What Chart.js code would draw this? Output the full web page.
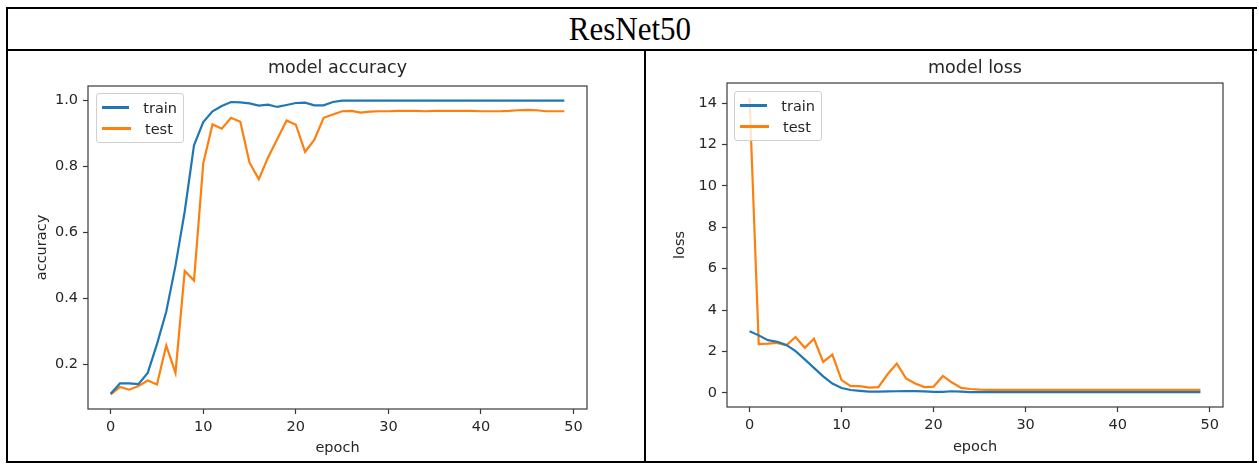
<!DOCTYPE html>
<html>
<head>
<meta charset="utf-8">
<script src="https://cdn.jsdelivr.net/npm/chart.js@4.4.1/dist/chart.umd.min.js"></script>
<style>
  html, body { margin: 0; padding: 0; background: #fff; }
  #page { position: relative; width: 1259px; height: 464px; overflow: hidden; background: #fff; }
  .rule { position: absolute; background: #000; }
  #header { position: absolute; left: 8px; top: 9px; width: 1244px; height: 40px;
            font-family: 'Liberation Serif', 'Times New Roman', serif; font-size: 31px;
            color: #000; text-align: center; line-height: 40px; transform: scaleY(1.1); }
  canvas { position: absolute; }
  .legend { position: absolute; box-sizing: border-box; border: 1px solid #d0d0d0; border-radius: 3px;
            background: rgba(255,255,255,0.8); font-family: 'DejaVu Sans', sans-serif; font-size: 14.5px;
            color: #262626; padding: 3px 6px 3px 5px; }
  .legend .row { display: flex; align-items: center; height: 21px; }
  .legend .sw { width: 29px; height: 2.2px; margin-right: 14px; }
</style>
</head>
<body>
<div id="page">
  <div class="rule" style="left:6px;top:7px;width:1251px;height:2px"></div>
  <div class="rule" style="left:6px;top:49px;width:1251px;height:2px"></div>
  <div class="rule" style="left:6px;top:461px;width:1251px;height:2px"></div>
  <div class="rule" style="left:6px;top:7px;width:2px;height:456px"></div>
  <div class="rule" style="left:1252px;top:7px;width:2px;height:456px"></div>
  <div class="rule" style="left:644px;top:49px;width:2px;height:414px"></div>
  <div id="header">ResNet50</div>
  <canvas id="accChart" width="636" height="410" style="left:8px;top:51px;width:636px;height:410px"></canvas>
  <canvas id="lossChart" width="606" height="410" style="left:646px;top:51px;width:606px;height:410px"></canvas>
  <div id="accLegend" class="legend" style="left:96px;top:93px;width:88px;"></div>
  <div id="lossLegend" class="legend" style="left:734px;top:91px;width:88px;"></div>
</div>
<script>
// ---- data ----
const epochs = [0,1,2,3,4,5,6,7,8,9,10,11,12,13,14,15,16,17,18,19,20,21,22,23,24,25,26,27,28,29,30,31,32,33,34,35,36,37,38,39,40,41,42,43,44,45,46,47,48,49];

const accTrain = [0.112,0.143,0.143,0.141,0.175,0.262,0.360,0.500,0.665,0.865,
                  0.935,0.968,0.984,0.996,0.995,0.992,0.985,0.988,0.981,0.987,
                  0.993,0.994,0.986,0.986,0.996,1.000,1.000,1.000,1.000,1.000,
                  1.000,1.000,1.000,1.000,1.000,1.000,1.000,1.000,1.000,1.000,
                  1.000,1.000,1.000,1.000,1.000,1.000,1.000,1.000,1.000,1.000];
const accTest  = [0.110,0.132,0.124,0.135,0.152,0.140,0.258,0.175,0.484,0.455,
                  0.810,0.928,0.915,0.948,0.936,0.812,0.762,0.828,0.884,0.940,
                  0.927,0.845,0.882,0.948,0.958,0.968,0.969,0.964,0.967,0.968,
                  0.968,0.969,0.969,0.969,0.968,0.969,0.969,0.969,0.969,0.969,
                  0.968,0.968,0.968,0.969,0.971,0.972,0.971,0.968,0.968,0.968];

const lossTrain = [2.98,2.78,2.55,2.47,2.32,2.02,1.62,1.21,0.80,0.45,
                   0.24,0.14,0.10,0.06,0.06,0.07,0.08,0.09,0.09,0.07,
                   0.05,0.05,0.08,0.06,0.04,0.035,0.035,0.035,0.035,0.035,
                   0.035,0.035,0.035,0.035,0.035,0.035,0.035,0.035,0.035,0.035,
                   0.035,0.035,0.035,0.035,0.035,0.035,0.035,0.035,0.035,0.035];
const lossTest  = [14.26,2.36,2.38,2.42,2.30,2.70,2.18,2.62,1.50,1.85,
                   0.62,0.33,0.33,0.26,0.28,0.90,1.42,0.70,0.46,0.28,
                   0.30,0.82,0.50,0.24,0.19,0.16,0.15,0.15,0.15,0.15,
                   0.15,0.15,0.15,0.15,0.15,0.15,0.15,0.15,0.15,0.15,
                   0.15,0.15,0.15,0.15,0.15,0.15,0.15,0.15,0.15,0.15];

const xTicks = [0,10,20,30,40,50];
const accTicks = [0.2,0.4,0.6,0.8,1.0];
const lossTicks = [0,2,4,6,8,10,12,14];
const seriesNames = ['train','test'];
const seriesColors = ['#1f77b4','#ff7f0e'];

// ---- helpers ----
const FONT = "'DejaVu Sans', sans-serif";
const TXT = '#262626';
const AX = '#3a3a3a';

const framePlugin = {
  id: 'frame',
  afterDraw(chart) {
    const a = chart.chartArea, ctx = chart.ctx;
    ctx.save();
    ctx.strokeStyle = AX;
    ctx.lineWidth = 1.2;
    ctx.strokeRect(a.left, a.top, a.right - a.left, a.bottom - a.top);
    ctx.restore();
  }
};

function pts(vals) { return vals.map((v, i) => ({x: epochs[i], y: v})); }

function makeChart(id, cfg) {
  const datasets = [cfg.train, cfg.test].map((vals, i) => ({
    label: seriesNames[i],
    data: pts(vals),
    borderColor: seriesColors[i],
    backgroundColor: seriesColors[i],
    borderWidth: 2.2,
    pointRadius: 0,
    tension: 0,
    fill: false
  }));
  return new Chart(document.getElementById(id), {
    type: 'line',
    data: { datasets },
    options: {
      responsive: false,
      animation: false,
      devicePixelRatio: 1,
      layout: { padding: { left: 0, top: 0, right: cfg.padRight, bottom: 0 } },
      plugins: {
        legend: { display: false },
        tooltip: { enabled: false },
        title: {
          display: true, text: cfg.title, fullSize: false,
          color: TXT, font: { family: FONT, size: 17.5, weight: 'normal' },
          padding: { top: cfg.titleTop, bottom: cfg.titleBottom }
        }
      },
      scales: {
        x: {
          type: 'linear', min: -2.45, max: 51.45,
          afterBuildTicks: s => { s.ticks = xTicks.map(v => ({value: v})); },
          afterFit: s => { s.height = cfg.xHeight; },
          grid: { display: true, drawOnChartArea: false, drawTicks: true, tickLength: 5, tickWidth: 1.2, tickColor: AX },
          border: { display: false },
          ticks: { color: TXT, font: { family: FONT, size: 14.5 }, padding: 5, maxRotation: 0, autoSkip: false,
                   callback: v => String(v) },
          title: { display: true, text: 'epoch', color: TXT, font: { family: FONT, size: 14.5 },
                   padding: { top: 0, bottom: cfg.xTitlePad } }
        },
        y: {
          type: 'linear', min: cfg.yMin, max: cfg.yMax,
          afterBuildTicks: s => { s.ticks = cfg.yTicks.map(v => ({value: v})); },
          afterFit: s => { s.width = cfg.yWidth; },
          grid: { display: true, drawOnChartArea: false, drawTicks: true, tickLength: 5, tickWidth: 1.2, tickColor: AX },
          border: { display: false },
          ticks: { color: TXT, font: { family: FONT, size: 14.5 }, padding: 5, autoSkip: false,
                   callback: cfg.fmt },
          title: { display: true, text: cfg.yLabel, color: TXT, font: { family: FONT, size: 14.5 },
                   padding: { top: 25.3, bottom: 0 } }
        }
      }
    },
    plugins: [framePlugin]
  });
}

makeChart('accChart', {
  title: 'model accuracy', yLabel: 'accuracy', train: accTrain, test: accTest,
  yMin: 0.0655, yMax: 1.0445, yTicks: accTicks, fmt: v => Number(v).toFixed(1),
  padRight: 57, yWidth: 80, xHeight: 52, xTitlePad: 4.3, titleTop: 6.5, titleBottom: 7.5
});
makeChart('lossChart', {
  title: 'model loss', yLabel: 'loss', train: lossTrain, test: lossTest,
  yMin: -0.68, yMax: 14.97, yTicks: lossTicks, fmt: v => String(Math.round(v)),
  padRight: 29, yWidth: 81, xHeight: 54, xTitlePad: 5.3, titleTop: 6.5, titleBottom: 4.5
});

function buildLegend(id) {
  const el = document.getElementById(id);
  seriesNames.forEach((name, i) => {
    const row = document.createElement('div');
    row.className = 'row';
    const sw = document.createElement('div');
    sw.className = 'sw';
    sw.style.background = seriesColors[i];
    const t = document.createElement('span');
    t.textContent = name;
    row.appendChild(sw); row.appendChild(t);
    el.appendChild(row);
  });
}
buildLegend('accLegend');
buildLegend('lossLegend');
</script>
</body>
</html>
